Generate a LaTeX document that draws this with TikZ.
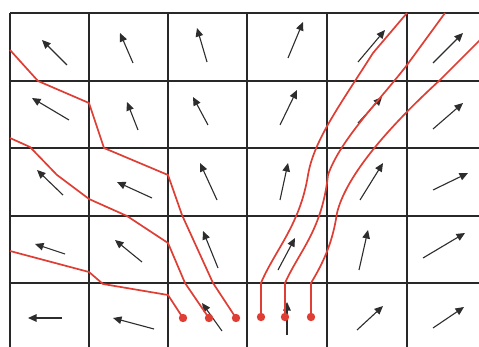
\documentclass[tikz,border=0pt]{standalone}
\usetikzlibrary{arrows.meta}
\definecolor{gridc}{RGB}{40,40,40}
\definecolor{flowred}{RGB}{222,62,52}
\definecolor{arrc}{RGB}{45,45,45}
\tikzset{
  gridline/.style={draw=gridc,line width=2.2pt},
  vec/.style={draw=arrc,line width=1.1pt,-{Triangle[length=8.5pt,width=7.5pt]}},
  flow/.style={draw=flowred,line width=1.7pt,line join=round},
  seed/.style={fill=flowred,draw=none}
}
\begin{document}
\begin{tikzpicture}[x=1pt,y=-1pt]
\useasboundingbox (0,0) rectangle (479,347);
\fill[white] (0,0) rectangle (479,347);
\clip (0,0) rectangle (479,347);
% grid
\foreach \x in {10,89,168,247,327,407,486}
  \draw[gridline] (\x,13) -- (\x,352);
\foreach \y in {13,81,148,216,283,350}
  \draw[gridline] (10,\y) -- (488,\y);
% vector field
% row 0
\draw[vec] (67,65) -- (42,40);
\draw[vec] (133,63) -- (120,33);
\draw[vec] (207,62) -- (197,28);
\draw[vec] (288,58) -- (303,22);
\draw[vec] (358,62) -- (385,30);
\draw[vec] (433,63) -- (463,33);
% row 1
\draw[vec] (69,120) -- (32,98);
\draw[vec] (138,130) -- (127,102);
\draw[vec] (208,125) -- (193,97);
\draw[vec] (280,125) -- (297,90);
\draw[vec] (358,123) -- (382,97);
\draw[vec] (433,129) -- (463,103);
% row 2
\draw[vec] (63,195) -- (37,170);
\draw[vec] (152,198) -- (117,182);
\draw[vec] (217,200) -- (200,163);
\draw[vec] (280,200) -- (288,163);
\draw[vec] (360,200) -- (383,163);
\draw[vec] (433,190) -- (468,173);
% row 3
\draw[vec] (65,254) -- (35,244);
\draw[vec] (142,262) -- (115,240);
\draw[vec] (218,268) -- (203,231);
\draw[vec] (278,270) -- (295,238);
\draw[vec] (359,270) -- (368,230);
\draw[vec] (423,258) -- (465,233);
% row 4
\draw[vec] (62,318) -- (28,318);
\draw[vec] (154,329) -- (113,318);
\draw[vec] (222,331) -- (202,303);
\draw[vec] (287,335) -- (287,302);
\draw[vec] (357,330) -- (383,306);
\draw[vec] (433,328) -- (464,307);
% seed points
\coordinate (s1) at (183,318);
\coordinate (s2) at (209,318);
\coordinate (s3) at (236,318);
\coordinate (s4) at (261,317);
\coordinate (s5) at (285,317);
\coordinate (s6) at (311,317);
% streamlines, left
\draw[flow] (10,50) -- (38,81) -- (89,103) -- (104,148) -- (168,175) -- (182,215) -- (213,283) -- (s3);
\draw[flow] (10,138) -- (30,147) -- (57,175) -- (89,199) -- (127,216) -- (168,243) -- (185,283) -- (200,305) -- (s2);
\draw[flow] (10,251) -- (89,272) -- (103,284) -- (168,295) -- (s1);
% streamlines, right
\draw[flow] (s4) -- (261,283) .. controls (275,250) and (300,225) .. (308,175)
  .. controls (314,140) and (340,105) .. (373,53) -- (407,13);
\draw[flow] (s5) -- (285,283) .. controls (300,250) and (322,230) .. (328,175)
  .. controls (340,140) and (380,100) .. (407,65) -- (445,13);
\draw[flow] (s6) -- (311,283) .. controls (325,260) and (333,240) .. (337,213)
  .. controls (345,180) and (380,135) .. (440,80) -- (490,30);
\foreach \s in {s1,s2,s3,s4,s5,s6}
  \fill[seed] (\s) circle (4.2pt);
\end{tikzpicture}
\end{document}
